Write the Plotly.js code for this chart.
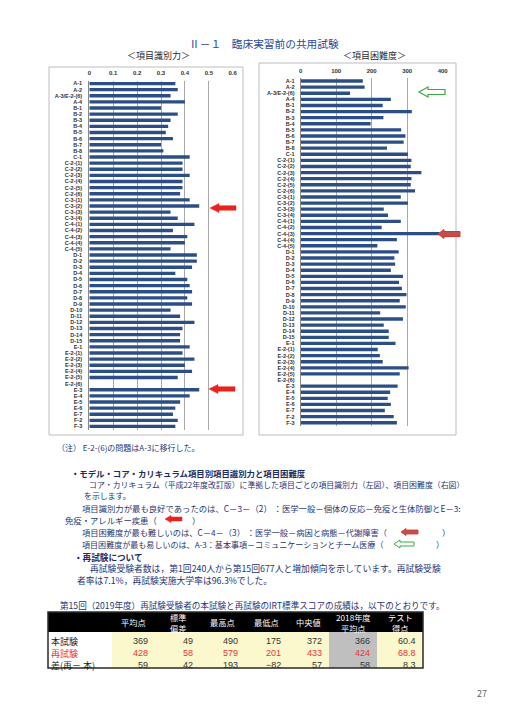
<!DOCTYPE html>
<html><head><meta charset="utf-8">
<script src="https://cdn.plot.ly/plotly-3.0.1.min.js"></script>
<style>html,body{margin:0;padding:0;background:#fff}#chart{width:509px;height:720px}</style>
</head><body><div id="chart"></div>
<script>
// ---------- DATA ----------
const categories = ["A-1","A-2","A-3/E-2-(6)","A-4","B-1","B-2","B-3","B-4","B-5","B-6","B-7","B-8","C-1",
  "C-2-(1)","C-2-(2)","C-2-(3)","C-2-(4)","C-2-(5)","C-2-(6)","C-3-(1)","C-3-(2)","C-3-(3)","C-3-(4)",
  "C-4-(1)","C-4-(2)","C-4-(3)","C-4-(4)","C-4-(5)","D-1","D-2","D-3","D-4","D-5","D-6","D-7","D-8","D-9",
  "D-10","D-11","D-12","D-13","D-14","D-15","E-1","E-2-(1)","E-2-(2)","E-2-(3)","E-2-(4)","E-2-(5)","E-2-(6)",
  "E-3","E-4","E-5","E-6","E-7","F-2","F-3"];
const discrimination = [0.36,0.37,0.34,0.40,0.30,0.37,0.34,0.33,0.32,0.35,0.30,0.31,0.42,
  0.39,0.39,0.42,0.39,0.39,0.38,0.42,0.46,0.34,0.37,
  0.44,0.35,0.41,0.40,0.34,0.45,0.45,0.43,0.36,0.41,0.42,0.43,0.41,0.43,
  0.34,0.38,0.44,0.39,0.38,0.38,0.42,0.39,0.44,0.40,0.43,0.37,null,
  0.46,0.42,0.38,0.36,0.35,0.37,0.36];
const difficulty = [175,180,139,254,231,313,233,197,283,295,290,243,302,
  312,310,340,312,310,322,282,302,234,246,
  282,228,391,271,216,276,264,266,254,288,277,285,298,279,
  296,224,288,234,248,248,267,217,223,231,304,279,null,
  273,252,245,254,237,262,271];
const discTicks = [0,0.1,0.2,0.3,0.4,0.5,0.6];
const diffTicks = [0,100,200,300,400];

const tableRowLabels = ["本試験","再試験","差(再－ 本)"];
const tableHeaders = [["平均点"],["標準","偏差"],["最高点"],["最低点"],["中央値"],["2018年度","平均点"],["テスト","得点"]];
const mainExam = [369,49,490,175,372,366,60.4];
const retestExam = [428,58,579,201,433,424,68.8];
const diffRow = [59,42,193,-82,57,58,8.3];

// ---------- helpers ----------
const W = 509, H = 720;
const PX = x => x / W, PY = y => 1 - y / H;
const JP = "Noto Sans CJK JP";
const TXT = "#1E3676";

function arrowPath(tipX, cy, len, h, headLen, shaftH) {
  const pts = [[tipX,cy],[tipX+headLen,cy-h/2],[tipX+headLen,cy-shaftH/2],[tipX+len,cy-shaftH/2],
               [tipX+len,cy+shaftH/2],[tipX+headLen,cy+shaftH/2],[tipX+headLen,cy+h/2]];
  return 'M' + pts.map(p => PX(p[0]).toFixed(5) + ',' + PY(p[1]).toFixed(5)).join(' L') + ' Z';
}

const barColor = "#2C4E87";
const traces = [
  {type:'bar', orientation:'h', y:categories, x:discrimination, xaxis:'x', yaxis:'y',
   marker:{color:barColor}, width:0.55, hoverinfo:'skip'},
  {type:'bar', orientation:'h', y:categories, x:difficulty, xaxis:'x2', yaxis:'y2',
   marker:{color:barColor}, width:0.55, hoverinfo:'skip'}
];

const tickFont = {family:"Liberation Sans", size:5.5, color:"#333", weight:'bold'};
const xCommon = {side:'top', showgrid:true, gridcolor:'#A8A8A8', gridwidth:1, zeroline:false,
  showline:false, ticks:'', tickfont:{family:"Liberation Sans", size:6, color:'#333', weight:'bold'},
  ticklabelstandoff:3, fixedrange:true};
const yCommon = {type:'category', autorange:false, range:[56.5,-0.5], showgrid:false, zeroline:false,
  showline:true, linecolor:'#888', linewidth:1, ticks:'', tickfont:tickFont, fixedrange:true,
  categoryorder:'array', categoryarray:categories, tickmode:'array', tickvals:categories, ticktext:categories};

const shapes = [];
const annotations = [];

// frames
shapes.push({type:'rect', xref:'paper', yref:'paper', x0:PX(49), x1:PX(243), y0:PY(435), y1:PY(67),
  line:{color:'#BDBDBD', width:1}});
shapes.push({type:'rect', xref:'paper', yref:'paper', x0:PX(259), x1:PX(456), y0:PY(435), y1:PY(63),
  line:{color:'#BDBDBD', width:1}});

// chart arrows
shapes.push({type:'path', xref:'paper', yref:'paper', path:arrowPath(210,208,26,9,9,4.5),
  fillcolor:'#E8231E', line:{color:'#E8231E', width:0.5}});
shapes.push({type:'path', xref:'paper', yref:'paper', path:arrowPath(209,389,26,9,9,4.5),
  fillcolor:'#E8231E', line:{color:'#E8231E', width:0.5}});
shapes.push({type:'path', xref:'paper', yref:'paper', path:arrowPath(419,92,26,10,9,5),
  fillcolor:'#FFFFFF', line:{color:'#3BAA44', width:1.2}});
shapes.push({type:'path', xref:'paper', yref:'paper', path:arrowPath(438,234,22,9,6,5),
  fillcolor:'#C0504D', line:{color:'#E0302A', width:1}});

// text arrows
shapes.push({type:'path', xref:'paper', yref:'paper', path:arrowPath(165,519,17,7,6,4),
  fillcolor:'#E8231E', line:{color:'#E8231E', width:0.5}});
shapes.push({type:'path', xref:'paper', yref:'paper', path:arrowPath(401,532,17,7,5,4),
  fillcolor:'#C0504D', line:{color:'#E0302A', width:0.8}});
shapes.push({type:'path', xref:'paper', yref:'paper', path:arrowPath(394,544,20,8,6,4),
  fillcolor:'#FFFFFF', line:{color:'#3BAA44', width:1}});

// text lines
function txt(s, x, y, size, opts) {
  opts = opts || {};
  annotations.push({text:s, xref:'paper', yref:'paper', x:PX(x), y:PY(y), xanchor:opts.anchor||'left',
    yanchor:'middle', showarrow:false,
    font:{family:JP, size:size, color:opts.color||TXT, weight:opts.weight||'normal'}});
}
txt("Ⅱ－１　臨床実習前の共用試験", 187, 43, 10.7, {color:'#2B4A99'});
txt("＜項目識別力＞", 158, 56, 9, {anchor:'center', color:'#2B2B2B'});
txt("＜項目困難度＞", 374, 56, 9, {anchor:'center', color:'#2B2B2B'});
txt("（注） E-2-(6)の問題はA-3に移行した。", 55, 447, 8);
txt("・モデル・コア・カリキュラム項目別項目識別力と項目困難度", 69, 473, 8.4, {weight:'bold', color:'#1B2B63'});
txt("コア・カリキュラム（平成22年度改訂版）に準拠した項目ごとの項目識別力（左図）、項目困難度（右図）", 87, 484, 7.9);
txt("を示します。", 82, 495, 7.9);
txt("項目識別力が最も良好であったのは、C－3－（2） ：医学一般－個体の反応－免疫と生体防御とE－3:", 80, 508, 8.35);
txt("免疫・アレルギー疾患（", 63, 520, 8.35);
txt("）", 190, 520, 8.35);
txt("項目困難度が最も難しいのは、C－4－（3） ：医学一般－病因と病態－代謝障害（", 80, 532, 8.25);
txt("）", 440, 532, 8.25);
txt("項目困難度が最も易しいのは、A-3：基本事項－コミュニケーションとチーム医療（", 80, 544, 8.05);
txt("）", 434, 544, 8.05);
txt("・再試験について", 72, 557, 8.6, {weight:'bold', color:'#1B2B63'});
txt("再試験受験者数は，第1回240人から第15回677人と増加傾向を示しています。再試験受験", 88, 568, 8.8);
txt("者率は7.1%，再試験実施大学率は96.3%でした。", 75, 580, 8.8);
txt("第15回（2019年度）再試験受験者の本試験と再試験のIRT標準スコアの成績は，以下のとおりです。", 58, 605, 8.6);
txt("27", 482, 693, 9, {anchor:'center', color:'#666', });

// ---------- table ----------
const colEdges = [48,112,155,200,245,288,329,377,423];
const headTop = 612, headBot = 632, rowH = 12;
const rowsData = [mainExam, retestExam, diffRow];
const rowColors = ['#333333','#E8343A','#333333'];
const tableBottom = headBot + rowH * rowsData.length;
// header band
shapes.push({type:'rect', xref:'paper', yref:'paper', x0:PX(colEdges[0]), x1:PX(colEdges[colEdges.length-1]),
  y0:PY(headBot), y1:PY(headTop), fillcolor:'#000', line:{width:0}});
// column fills
for (let c = 0; c < colEdges.length - 1; c++) {
  const fill = c === 0 ? '#FFFFFF' : (c === 6 ? '#BFBFBF' : '#FCF8CD');
  shapes.push({type:'rect', xref:'paper', yref:'paper', x0:PX(colEdges[c]), x1:PX(colEdges[c+1]),
    y0:PY(tableBottom), y1:PY(headBot), fillcolor:fill, line:{width:0}});
}
// outer border
shapes.push({type:'rect', xref:'paper', yref:'paper', x0:PX(colEdges[0]), x1:PX(colEdges[colEdges.length-1]),
  y0:PY(tableBottom), y1:PY(headTop), line:{color:'#2A2A2A', width:1.5}});
// header text
tableHeaders.forEach((lines, i) => {
  const cx = (colEdges[i+1] + colEdges[i+2]) / 2;
  annotations.push({text:lines.join('<br>'), xref:'paper', yref:'paper', x:PX(cx), y:PY((headTop+headBot)/2),
    xanchor:'center', yanchor:'middle', showarrow:false, align:'center',
    font:{family:JP, size:8.2, color:'#FFFFFF'}});
});
// row labels and values
rowsData.forEach((vals, r) => {
  const cy = headBot + rowH * r + rowH / 2 + 3;
  annotations.push({text:tableRowLabels[r], xref:'paper', yref:'paper', x:PX(colEdges[0]+1), y:PY(cy),
    xanchor:'left', yanchor:'middle', showarrow:false,
    font:{family:JP, size:9, color:rowColors[r] === '#333333' ? '#1a1a1a' : rowColors[r]}});
  vals.forEach((v, c) => {
    const txtv = (v < 0 ? '−' + Math.abs(v) : String(v));
    annotations.push({text:txtv, xref:'paper', yref:'paper', x:PX(colEdges[c+2]-5), y:PY(cy),
      xanchor:'right', yanchor:'middle', showarrow:false,
      font:{family:"Liberation Sans", size:9, color:rowColors[r]}});
  });
});

const layout = {
  width:W, height:H, margin:{l:0,r:0,t:0,b:0}, paper_bgcolor:'#fff', plot_bgcolor:'rgba(0,0,0,0)',
  showlegend:false, bargap:0.45,
  xaxis: Object.assign({}, xCommon, {domain:[PX(89.3), PX(232.7)], range:[0,0.6], anchor:'y',
    tickvals:discTicks, ticktext:discTicks.map(String)}),
  yaxis: Object.assign({}, yCommon, {domain:[PY(429.5), PY(80.5)], anchor:'x', ticklabelstandoff:5}),
  xaxis2: Object.assign({}, xCommon, {domain:[PX(300.7), PX(442.7)], range:[0,400], anchor:'y2',
    tickvals:diffTicks, ticktext:diffTicks.map(String)}),
  yaxis2: Object.assign({}, yCommon, {domain:[PY(425.8), PY(78)], anchor:'x2', ticklabelstandoff:4}),
  shapes:shapes, annotations:annotations
};
Plotly.newPlot('chart', traces, layout, {staticPlot:true, displayModeBar:false});
</script></body></html>
